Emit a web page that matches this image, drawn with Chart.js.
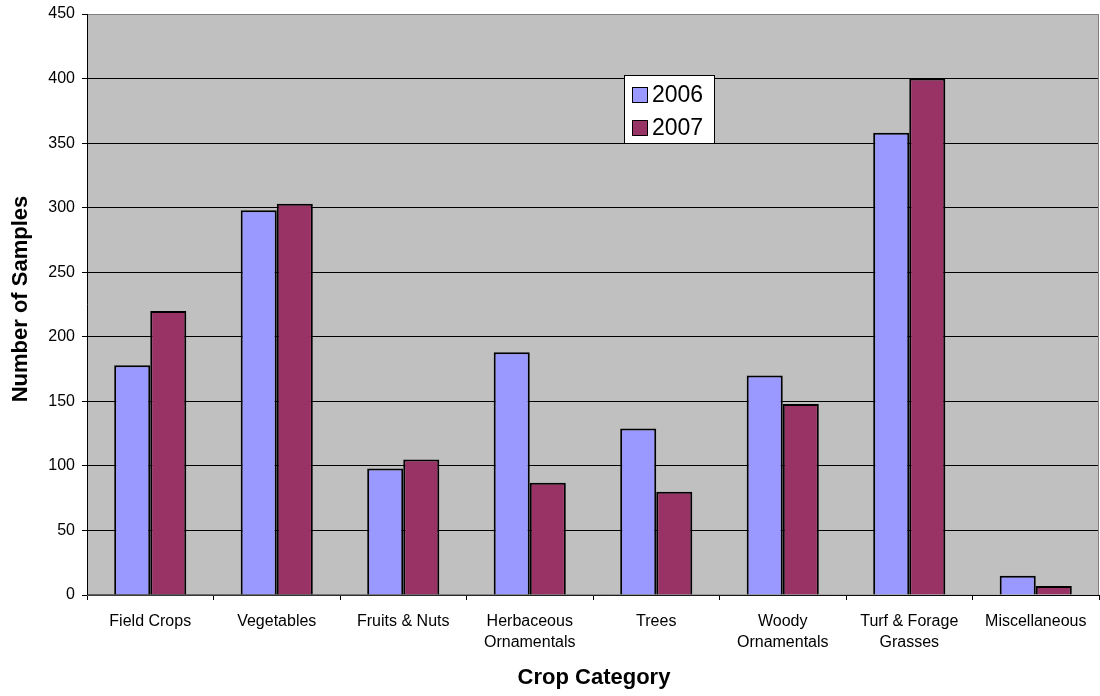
<!DOCTYPE html>
<html>
<head>
<meta charset="utf-8">
<script src="https://cdn.jsdelivr.net/npm/chart.js@4.4.1/dist/chart.umd.min.js"></script>
<style>
  html, body { margin: 0; padding: 0; background: #fff; }
  #wrap { width: 1100px; height: 696px; }
</style>
</head>
<body>
<div id="wrap"><canvas id="cropChart" width="1100" height="696"></canvas></div>
<script>
// Sample counts per crop category
const categories = [
    'Field Crops', 'Vegetables', 'Fruits & Nuts', ['Herbaceous', 'Ornamentals'],
    'Trees', ['Woody', 'Ornamentals'], ['Turf & Forage', 'Grasses'], 'Miscellaneous'
];
const samples2006 = [178, 298, 98, 188, 129, 170, 358, 15];
const samples2007 = [220, 303, 105, 87, 80, 148, 400, 7];
const yTicks = [0, 50, 100, 150, 200, 250, 300, 350, 400, 450];

const FONT = 'Arial, "Liberation Sans", sans-serif';

// Grey plot area behind the bars
const plotBackground = {
    id: 'plotBackground',
    beforeDraw(chart) {
        const a = chart.chartArea;
        const ctx = chart.ctx;
        ctx.save();
        ctx.fillStyle = '#c0c0c0';
        ctx.fillRect(a.left, a.top, a.right - a.left, a.bottom - a.top);
        ctx.restore();
    },
    afterDatasetsDraw(chart) {
        const a = chart.chartArea;
        const ctx = chart.ctx;
        ctx.save();
        ctx.strokeStyle = '#808080';
        ctx.lineWidth = 1;
        ctx.strokeRect(a.left + 0.5, a.top + 0.5, a.right - a.left - 1, a.bottom - a.top);
        ctx.strokeStyle = '#000';
        ctx.beginPath();
        ctx.moveTo(a.left + 0.5, a.top);
        ctx.lineTo(a.left + 0.5, a.bottom);
        ctx.lineTo(a.right, a.bottom + 0.5);
        ctx.stroke();
        ctx.restore();
    }
};

// Axis titles and the boxed legend inside the plot
const extras = {
    id: 'extras',
    afterDraw(chart) {
        const ctx = chart.ctx;
        const a = chart.chartArea;
        ctx.save();
        ctx.fillStyle = '#000';
        ctx.textAlign = 'center';
        ctx.textBaseline = 'middle';
        ctx.font = 'bold 22px ' + FONT;
        ctx.fillText('Crop Category', (a.left + a.right) / 2 + 1, 678);
        ctx.translate(21, 299);
        ctx.rotate(-Math.PI / 2);
        ctx.fillText('Number of Samples', 0, 0);
        ctx.restore();

        // legend box
        ctx.save();
        ctx.fillStyle = '#fff';
        ctx.fillRect(624, 75, 91, 69);
        ctx.strokeStyle = '#000';
        ctx.lineWidth = 1;
        ctx.strokeRect(624.5, 75.5, 90, 68);
        ctx.font = '23px ' + FONT;
        ctx.textAlign = 'left';
        ctx.textBaseline = 'middle';
        chart.data.datasets.forEach((ds, i) => {
            const y = 95 + i * 33;
            ctx.fillStyle = ds.backgroundColor;
            ctx.fillRect(632, y - 8, 15, 15);
            ctx.strokeStyle = '#000';
            ctx.strokeRect(632.5, y - 7.5, 15, 15);
            ctx.fillStyle = '#000';
            ctx.fillText(ds.label, 652, y + 1);
        });
        ctx.restore();
    }
};

new Chart(document.getElementById('cropChart'), {
    type: 'bar',
    data: {
        labels: categories,
        datasets: [{
            label: '2006',
            data: samples2006,
            backgroundColor: '#9999ff',
            borderColor: '#000',
            borderWidth: 2
        }, {
            label: '2007',
            data: samples2007,
            backgroundColor: '#993366',
            borderColor: '#000',
            borderWidth: 2
        }]
    },
    options: {
        responsive: false,
        animation: false,
        devicePixelRatio: 1,
        layout: { padding: { top: 14, right: 1, left: 0, bottom: 0 } },
        categoryPercentage: 0.57,
        barPercentage: 1,
        plugins: {
            legend: { display: false },
            tooltip: { enabled: false }
        },
        scales: {
            x: {
                afterFit(scale) { scale.height = 101; },
                grid: {
                    offset: true,
                    drawOnChartArea: false,
                    color: '#000',
                    tickLength: 5
                },
                border: { display: false },
                ticks: {
                    color: '#000',
                    padding: 11,
                    maxRotation: 0,
                    autoSkip: false,
                    font: { family: FONT, size: 16, lineHeight: 1.3 }
                }
            },
            y: {
                min: 0,
                max: 450,
                afterFit(scale) {
                    scale.width = 87;
                    scale.paddingTop = 0;
                    scale.paddingBottom = 0;
                },
                afterBuildTicks(scale) { scale.ticks = yTicks.map(v => ({ value: v })); },
                grid: {
                    color: '#000',
                    lineWidth: 1,
                    tickLength: 5
                },
                border: { display: false },
                ticks: {
                    color: '#000',
                    padding: 7,
                    font: { family: FONT, size: 16 }
                }
            }
        }
    },
    plugins: [plotBackground, extras]
});
</script>
</body>
</html>
